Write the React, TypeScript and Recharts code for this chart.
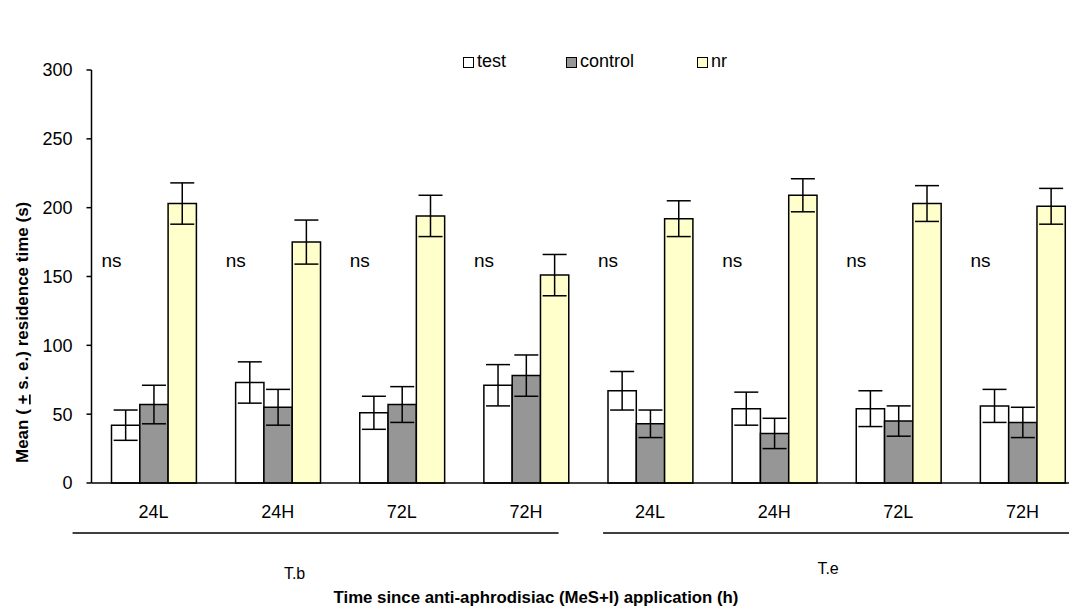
import React from 'react';
import { BarChart, Bar, XAxis, YAxis, ErrorBar, Legend, ReferenceDot } from 'recharts';

const groups = ['T.b', 'T.e'];
const times = ['24L', '24H', '72L', '72H'];
const seriesNames = ['test', 'control', 'nr'];
const seriesColors = ['#FFFFFF', '#969696', '#FFFFCC'];

const testMean = [42, 73, 51, 71, 67, 54, 54, 56];
const testSE = [11, 15, 12, 15, 14, 12, 13, 12];
const controlMean = [57, 55, 57, 78, 43, 36, 45, 44];
const controlSE = [14, 13, 13, 15, 10, 11, 11, 11];
const nrMean = [203, 175, 194, 151, 192, 209, 203, 201];
const nrSE = [15, 16, 15, 15, 13, 12, 13, 13];

const yTicks = [0, 50, 100, 150, 200, 250, 300];
const nsLabel = 'ns';
const nsLevel = 157;

const FONT = "'Liberation Sans', Arial, sans-serif";

const data = groups.flatMap((g, gi) =>
  times.map((t, ti) => {
    const i = gi * times.length + ti;
    return {
      key: `${g} ${t}`,
      test: testMean[i],
      testSE: testSE[i],
      control: controlMean[i],
      controlSE: controlSE[i],
      nr: nrMean[i],
      nrSE: nrSE[i],
    };
  })
);

const groupLine = [
  { from: -81, to: 405, label: 141, labelY: 96 },
  { from: -47, to: 460, label: 178, labelY: 91 },
];

const legendOffsets = [0, 103, 234];

const XTick = (props: any) => {
  const { x, y, payload, index } = props;
  const [g, t] = String(payload.value).split(' ');
  const gi = Math.floor(index / times.length);
  const first = index % times.length === 0;
  const gl = groupLine[gi];
  return (
    <g>
      <text x={x} y={y + 35} textAnchor="middle" fontSize={18} fill="#000" fontFamily={FONT}>
        {t}
      </text>
      {first && (
        <line x1={x + gl.from} x2={x + gl.to} y1={y + 50} y2={y + 50} stroke="#000" strokeWidth={1.5} />
      )}
      {first && (
        <text x={x + gl.label} y={y + gl.labelY} textAnchor="middle" fontSize={16} fill="#000" fontFamily={FONT}>
          {g}
        </text>
      )}
    </g>
  );
};

const LegendContent = () => (
  <div style={{ position: 'relative', fontFamily: FONT, fontSize: 18, color: '#000', lineHeight: '18px', height: 0 }}>
    {seriesNames.map((n, i) => (
      <div key={n} style={{ position: 'absolute', left: legendOffsets[i], top: 0, display: 'flex', alignItems: 'center', whiteSpace: 'nowrap' }}>
        <span
          style={{
            display: 'inline-block',
            width: 9,
            height: 9,
            border: '1px solid #000',
            background: seriesColors[i],
            marginRight: 3,
            marginTop: 2,
          }}
        />
        <span>{n}</span>
      </div>
    ))}
  </div>
);

const YTitle = () => (
  <text
    x={0}
    y={0}
    transform="translate(28,463) rotate(-90)"
    textAnchor="start"
    fontSize={17}
    fontWeight="bold"
    fill="#000"
    fontFamily={FONT}
  >
    Mean ( <tspan textDecoration="underline">+</tspan> s. e.) residence time (s)
  </text>
);

export default function App() {
  return (
    <div style={{ position: 'fixed', left: 0, top: 0, width: 1069, height: 611, overflow: 'hidden', background: '#fff' }}>
      <BarChart
        width={1090}
        height={611}
        data={data}
        margin={{ top: 70, right: 5.5, left: 0, bottom: 88 }}
        barGap={0}
        barSize={28.3}
      >
        <XAxis
          dataKey="key"
          interval={0}
          tickSize={0}
          tickMargin={0}
          tick={<XTick />}
          axisLine={{ stroke: '#000', strokeWidth: 1.5 }}
          tickLine={false}
          height={40}
          label={{
            content: () => (
              <text x={536} y={603} textAnchor="middle" fontSize={16.8} fontWeight="bold" fill="#000" fontFamily={FONT}>
                Time since anti-aphrodisiac (MeS+I) application (h)
              </text>
            ),
          }}
        />
        <YAxis
          width={91.5}
          domain={[0, 300]}
          ticks={yTicks}
          interval={0}
          tickSize={5}
          tickMargin={14}
          axisLine={{ stroke: '#000', strokeWidth: 1.5 }}
          tickLine={{ stroke: '#000', strokeWidth: 1.5 }}
          tick={{ fontSize: 18, fill: '#000', fontFamily: FONT }}
          label={{ content: () => <YTitle /> }}
        />
        <Legend
          verticalAlign="top"
          content={<LegendContent />}
          wrapperStyle={{ position: 'absolute', top: 52, left: 463, width: 400, height: 0 }}
        />
        <Bar dataKey="test" name="test" fill={seriesColors[0]} stroke="#000" strokeWidth={1.5} isAnimationActive={false}>
          <ErrorBar dataKey="testSE" width={12} stroke="#000" strokeWidth={1.5} direction="y" />
        </Bar>
        <Bar dataKey="control" name="control" fill={seriesColors[1]} stroke="#000" strokeWidth={1.5} isAnimationActive={false}>
          <ErrorBar dataKey="controlSE" width={12} stroke="#000" strokeWidth={1.5} direction="y" />
        </Bar>
        <Bar dataKey="nr" name="nr" fill={seriesColors[2]} stroke="#000" strokeWidth={1.5} isAnimationActive={false}>
          <ErrorBar dataKey="nrSE" width={12} stroke="#000" strokeWidth={1.5} direction="y" />
        </Bar>
        {data.map((d) => (
          <ReferenceDot
            key={d.key}
            x={d.key}
            y={nsLevel}
            ifOverflow="visible"
            shape={(p: any) => (
              <text x={p.cx - 42} y={p.cy} textAnchor="middle" fontSize={19} fill="#000" fontFamily={FONT}>
                {nsLabel}
              </text>
            )}
          />
        ))}
      </BarChart>
    </div>
  );
}
